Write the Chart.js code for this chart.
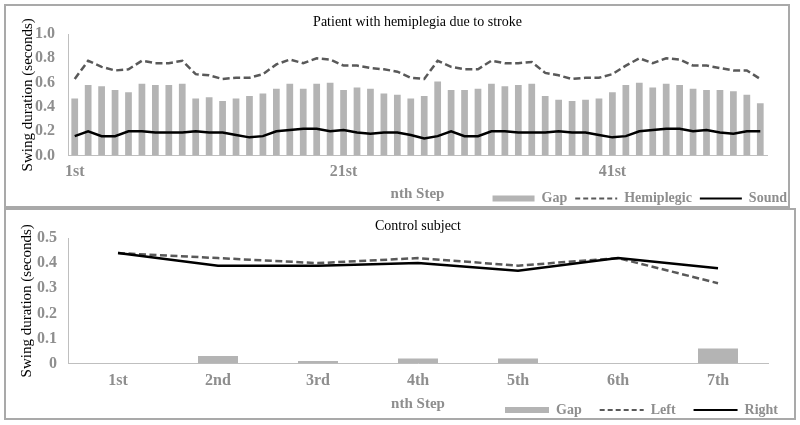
<!DOCTYPE html>
<html>
<head>
<meta charset="utf-8">
<script src="https://cdn.jsdelivr.net/npm/chart.js@4.4.0/dist/chart.umd.min.js"></script>
<style>
  html, body { margin: 0; padding: 0; background: #ffffff; width: 800px; height: 425px; overflow: hidden; }
  .panel { position: absolute; box-sizing: border-box; border: 2px solid #a9a9a9; }
  canvas { position: absolute; left: 0; }
</style>
</head>
<body>
<div class="panel" style="left:4px; top:4px; width:786px; height:204px;"></div>
<div class="panel" style="left:4px; top:208px; width:792px; height:212px;"></div>
<canvas id="top" width="800" height="210" style="top:0px;"></canvas>
<canvas id="bottom" width="800" height="215" style="top:210px;"></canvas>
<script>
// ---------- Top chart data (patient with hemiplegia) ----------
const patientSteps = ['1st','2nd','3rd','4th','5th','6th','7th','8th','9th','10th',
  '11th','12th','13th','14th','15th','16th','17th','18th','19th','20th',
  '21st','22nd','23rd','24th','25th','26th','27th','28th','29th','30th',
  '31st','32nd','33rd','34th','35th','36th','37th','38th','39th','40th',
  '41st','42nd','43rd','44th','45th','46th','47th','48th','49th','50th',
  '51st','52nd'];
const patientGap = [0.47,0.58,0.57,0.54,0.52,0.59,0.58,0.58,0.59,0.47,
  0.48,0.45,0.47,0.49,0.51,0.55,0.59,0.55,0.59,0.60,
  0.54,0.56,0.55,0.51,0.50,0.47,0.49,0.61,0.54,0.54,
  0.55,0.59,0.57,0.58,0.59,0.49,0.46,0.45,0.46,0.47,
  0.52,0.58,0.60,0.56,0.59,0.58,0.55,0.54,0.54,0.53,
  0.50,0.43];
const patientHemiplegic = [0.63,0.78,0.73,0.70,0.71,0.78,0.76,0.76,0.78,0.67,
  0.66,0.63,0.64,0.64,0.67,0.75,0.79,0.76,0.80,0.79,
  0.74,0.74,0.72,0.71,0.69,0.64,0.63,0.78,0.73,0.71,
  0.71,0.78,0.76,0.76,0.77,0.68,0.66,0.63,0.64,0.64,
  0.67,0.74,0.80,0.76,0.80,0.79,0.74,0.74,0.72,0.70,
  0.70,0.63];
const patientSound = [0.16,0.20,0.16,0.16,0.20,0.20,0.19,0.19,0.19,0.20,
  0.19,0.19,0.17,0.15,0.16,0.20,0.21,0.22,0.22,0.20,
  0.21,0.19,0.18,0.19,0.19,0.17,0.14,0.16,0.20,0.16,
  0.16,0.20,0.20,0.19,0.19,0.19,0.20,0.19,0.19,0.17,
  0.15,0.16,0.20,0.21,0.22,0.22,0.20,0.21,0.19,0.18,
  0.20,0.20];
const patientTicks = [0, 0.2, 0.4, 0.6, 0.8, 1.0];

// ---------- Bottom chart data (control subject) ----------
const controlSteps = ['1st','2nd','3rd','4th','5th','6th','7th'];
const controlGap = [0, 0.03, 0.01, 0.02, 0.02, 0, 0.06];
const controlLeft = [0.44, 0.42, 0.40, 0.42, 0.39, 0.42, 0.32];
const controlRight = [0.44, 0.39, 0.39, 0.40, 0.37, 0.42, 0.38];
const controlTicks = [0, 0.1, 0.2, 0.3, 0.4, 0.5];

// ---------- Styling ----------
const SERIF = "'Liberation Serif', 'Times New Roman', serif";
const GRAY_TEXT = '#8e8e8e';
const AXIS_COLOR = '#bfbfbf';
const BAR_COLOR = '#b4b4b4';
const DASH_COLOR = '#595959';

Chart.defaults.font.family = SERIF;
Chart.defaults.color = GRAY_TEXT;

function legendLabels(chart) {
  return chart.data.datasets.map((ds, i) => {
    const isLine = ds.type === 'line';
    return {
      text: ds.label,
      fillStyle: isLine ? 'rgba(0,0,0,0)' : ds.backgroundColor,
      strokeStyle: isLine ? ds.borderColor : ds.backgroundColor,
      lineWidth: isLine ? 2 : 0,
      lineDash: isLine && ds.borderDash ? [5, 3] : [],
      pointStyle: isLine ? 'line' : 'rect',
      hidden: false,
      datasetIndex: i,
      fontColor: GRAY_TEXT
    };
  });
}

function makeChart(id, cfg) {
  return new Chart(document.getElementById(id), {
    type: 'bar',
    data: {
      labels: cfg.labels,
      datasets: [
        { type: 'bar', label: 'Gap', data: cfg.gap, backgroundColor: BAR_COLOR,
          barPercentage: cfg.barPct, categoryPercentage: 1, order: 3 },
        { type: 'line', label: cfg.dashName, data: cfg.dash, borderColor: DASH_COLOR,
          borderWidth: 2.5, borderDash: [7, 3.5], pointRadius: 0, tension: 0, fill: false, order: 2 },
        { type: 'line', label: cfg.solidName, data: cfg.solid, borderColor: '#000000',
          borderWidth: 2.5, pointRadius: 0, tension: 0, fill: false, order: 1 }
      ]
    },
    options: {
      responsive: false,
      animation: false,
      devicePixelRatio: 1,
      layout: { padding: { left: 0, right: cfg.padRight, top: 0, bottom: 0 } },
      plugins: {
        tooltip: { enabled: false },
        title: {
          display: true, text: cfg.title, fullSize: false, color: '#000000',
          font: { family: SERIF, size: 14, weight: 'normal' },
          padding: { top: cfg.titlePadTop, bottom: cfg.titlePadBottom }
        },
        legend: {
          position: 'bottom', align: 'end', maxHeight: cfg.legendHeight,
          labels: {
            usePointStyle: true, pointStyleWidth: cfg.legendBoxWidth, boxHeight: 6,
            padding: cfg.legendPad, color: GRAY_TEXT,
            font: { family: SERIF, size: 14, weight: 'bold' },
            generateLabels: legendLabels
          }
        }
      },
      scales: {
        x: {
          offset: true,
          grid: { display: false, drawTicks: false },
          border: { display: true, color: AXIS_COLOR, width: 1 },
          ticks: {
            autoSkip: false, maxRotation: 0, minRotation: 0, padding: cfg.xTickPad,
            color: GRAY_TEXT, font: { family: SERIF, size: 16, weight: 'bold' },
            callback: function (v, i) { return i % cfg.labelEvery === 0 ? this.getLabelForValue(v) : ''; }
          },
          title: {
            display: true, text: 'nth Step', color: GRAY_TEXT,
            font: { family: SERIF, size: 15, weight: 'bold' },
            padding: { top: cfg.xTitlePadTop, bottom: cfg.xTitlePadBottom }
          }
        },
        y: {
          position: 'left', min: 0, max: cfg.yMax,
          afterBuildTicks: (s) => { s.ticks = cfg.yTicks.map(v => ({ value: v })); },
          afterFit: (s) => { s.width = 68; },
          grid: { display: false, drawTicks: false },
          border: { display: true, color: AXIS_COLOR, width: 1 },
          ticks: {
            padding: cfg.yTickPad, color: GRAY_TEXT,
            font: { family: SERIF, size: 16, weight: 'bold' },
            callback: cfg.yFormat
          },
          title: {
            display: true, text: 'Swing duration (seconds)', color: '#000000',
            font: { family: SERIF, size: 15, weight: 'normal' },
            padding: { top: cfg.yTitlePad, bottom: 0 }
          }
        },
        y2: {
          position: 'right', display: true,
          afterFit: (s) => { s.width = cfg.rightGap; },
          grid: { display: false, drawTicks: false },
          border: { display: false },
          ticks: { display: false }
        }
      }
    }
  });
}

makeChart('top', {
  labels: patientSteps, gap: patientGap, dash: patientHemiplegic, solid: patientSound,
  dashName: 'Hemiplegic', solidName: 'Sound',
  title: 'Patient with hemiplegia due to stroke',
  barPct: 0.5, labelEvery: 20, yMax: 1.0, yTicks: patientTicks,
  yFormat: (v) => Number(v).toFixed(1),
  padRight: 5, rightGap: 28,
  titlePadTop: 13.6, titlePadBottom: 3.6,
  legendHeight: 26.5, legendPad: 8, legendBoxWidth: 42,
  xTickPad: 6.4, xTitlePadTop: -2.6, xTitlePadBottom: -19.5,
  yTickPad: 13, yTitlePad: 19
});

makeChart('bottom', {
  labels: controlSteps, gap: controlGap, dash: controlLeft, solid: controlRight,
  dashName: 'Left', solidName: 'Right',
  title: 'Control subject',
  barPct: 0.4, labelEvery: 1, yMax: 0.5, yTicks: controlTicks,
  yFormat: (v) => (Number(v) === 0 ? '0' : Number(v).toFixed(1)),
  padRight: 4, rightGap: 28,
  titlePadTop: 7.6, titlePadBottom: 3.6,
  legendHeight: 40, legendPad: 18, legendBoxWidth: 44,
  xTickPad: 7.4, xTitlePadTop: -2.6, xTitlePadBottom: -28,
  yTickPad: 11, yTitlePad: 18
});
</script>
</body>
</html>
